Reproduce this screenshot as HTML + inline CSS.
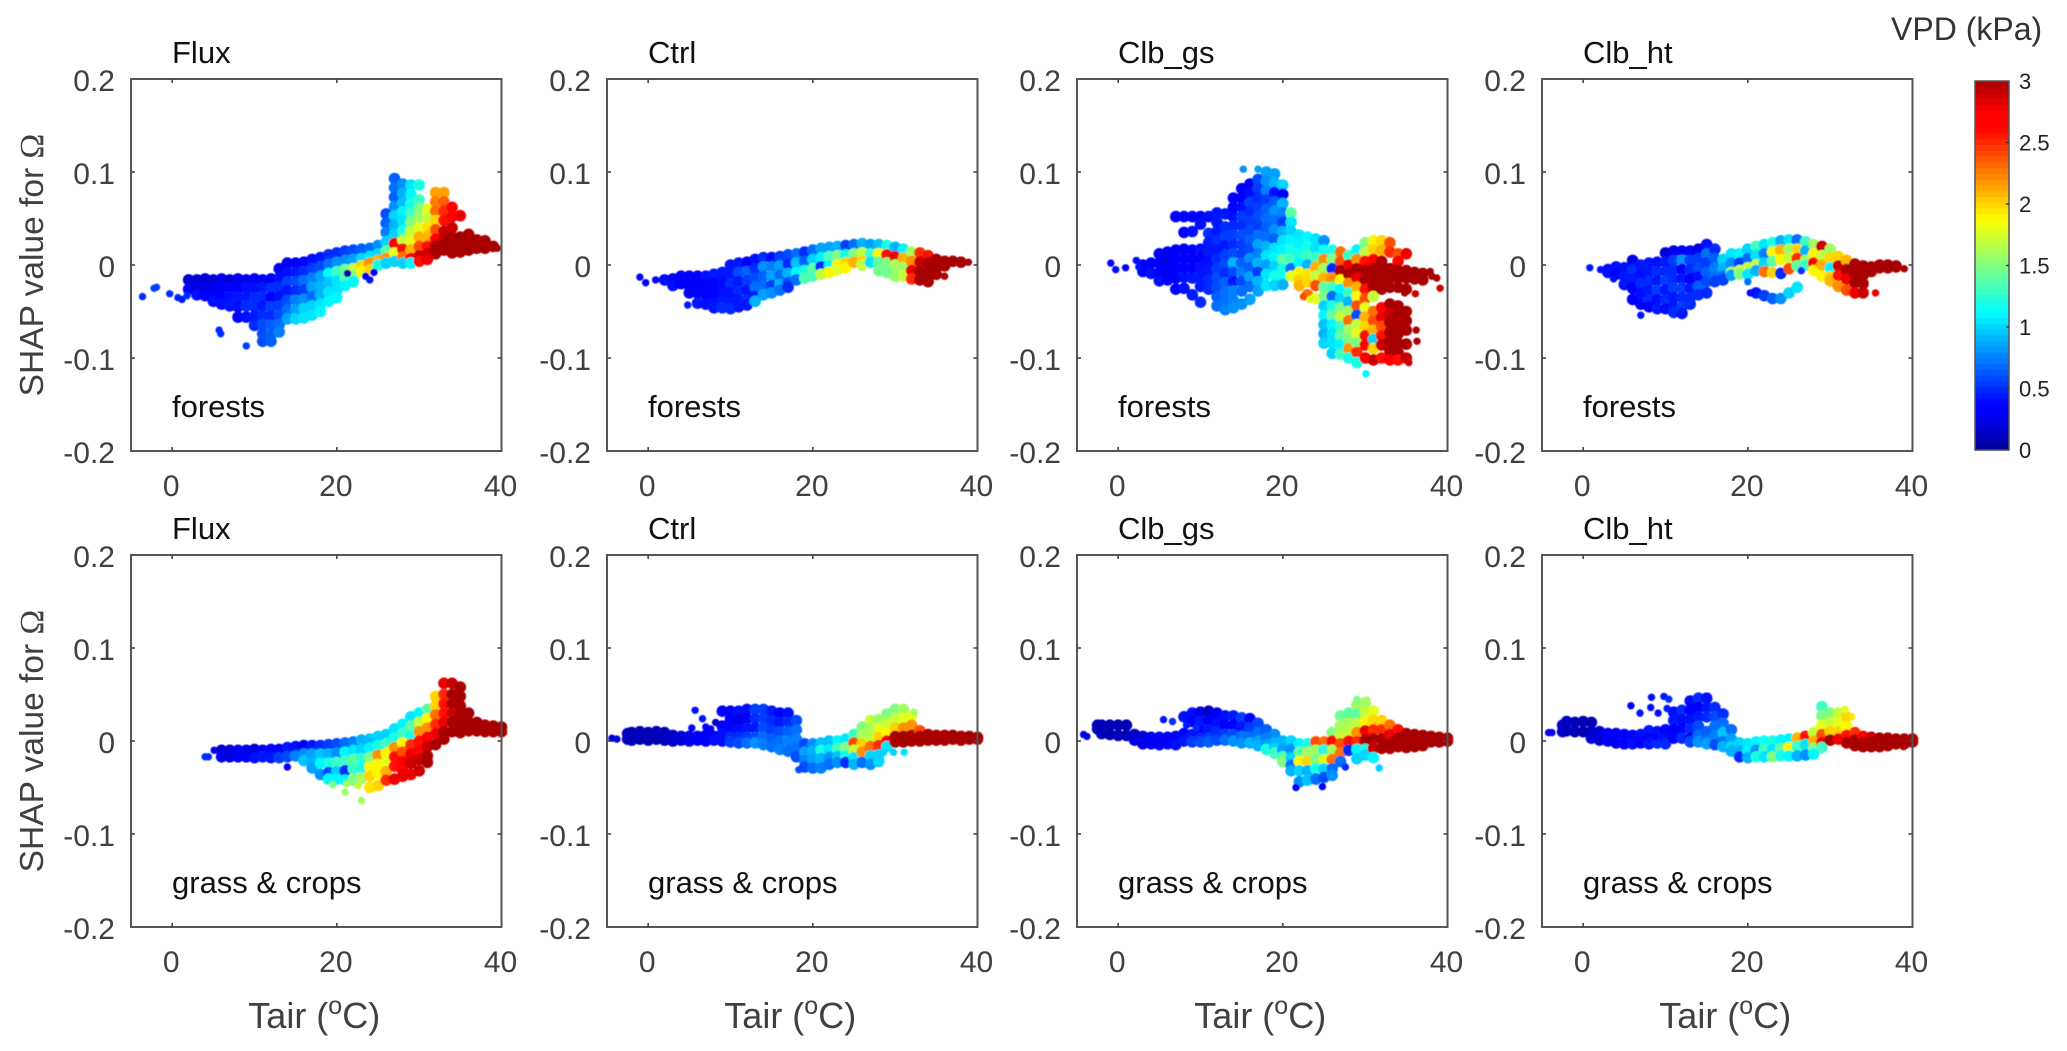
<!DOCTYPE html>
<html>
<head>
<meta charset="utf-8">
<title>SHAP value for Omega vs Tair</title>
<style>
html,body{margin:0;padding:0;background:#fff}
svg{display:block;font-family:"Liberation Sans",sans-serif}
</style>
</head>
<body>
<svg id="chart" xmlns="http://www.w3.org/2000/svg" width="2067" height="1051" viewBox="0 0 2067 1051">
<defs><filter id="soft" x="-5%" y="-5%" width="110%" height="110%"><feGaussianBlur stdDeviation="0.6"/></filter></defs>
<rect width="2067" height="1051" fill="#fff"/>
<text x="1891" y="40" font-size="32" fill="#333">VPD (kPa)</text>
</svg>
<script>
const modelNames=["Flux","Ctrl","Clb_gs","Clb_ht"];
const biomeNames=["forests","grass & crops"];
const tairTicks=[0,20,40];
const shapTicks=[0.2,0.1,0,-0.1,-0.2];
const shapLabels=["0.2","0.1","0","-0.1","-0.2"];
const vpdTicks=[0,0.5,1,1.5,2,2.5,3];
const vpdLabels=["0","0.5","1","1.5","2","2.5","3"];
/* each column: tair, then shap,vpd pairs */
const fluxForests=[
[2,-.016,.2,-.026,.35],
[3,-.016,.2,-.024,.25,-.032,.4],
[4,-.015,.2,-.025,.25,-.033,.35],
[5,-.016,.2,-.024,.25,-.033,.35,-.039,.4],
[6,-.015,.25,-.025,.3,-.035,.35,-.042,.4],
[7,-.016,.2,-.024,.3,-.034,.4,-.044,.45],
[8,-.015,.25,-.025,.3,-.035,.45,-.045,.4,-.056,.35],
[9,-.016,.25,-.024,.4,-.034,.45,-.044,.5,-.056,.4],
[10,-.015,.3,-.025,.4,-.035,.5,-.045,.5,-.055,.45,-.065,.5],
[11,-.016,.25,-.024,.45,-.034,.5,-.044,.45,-.054,.5,-.064,.6,-.074,.6,-.082,.6],
[12,-.015,.3,-.025,.5,-.035,.3,-.045,.55,-.055,.5,-.065,.65,-.075,.65,-.082,.65],
[13,-.004,.3,-.014,.4,-.024,.5,-.034,.4,-.044,.55,-.054,.6,-.064,.7,-.072,.75],
[14,.002,.25,-.008,.4,-.018,.55,-.028,.45,-.038,.6,-.048,.7,-.058,.85],
[15,.002,.3,-.008,.45,-.018,.6,-.028,.5,-.038,.75,-.048,.85,-.058,1],
[16,.003,.35,-.007,.5,-.017,.7,-.027,.55,-.037,.8,-.047,1,-.057,1.05],
[17,.006,.4,-.004,.55,-.014,.75,-.024,.85,-.034,.7,-.044,1,-.054,1.05],
[18,.008,.45,-.002,.6,-.012,.85,-.022,.9,-.032,.9,-.042,1.05,-.05,1.1],
[19,.011,.5,.001,.7,-.009,1.1,-.019,.95,-.029,1.05,-.039,1.1],
[20,.013,.5,.003,.8,-.007,1.3,-.017,1.05,-.027,1.05,-.035,1.1],
[21,.015,.55,.005,.8,-.005,1.45,-.013,1.35,-.022,1.1],
[22,.016,.6,.006,.85,-.004,1.7,-.012,1.5,-.018,1.1],
[23,.017,.65,.007,1,-.001,2,-.007,1.9],
[24,.018,.7,.009,1.05,.002,2.2,-.005,2],
[25,.021,.8,.012,1,.005,2.1,0,1.2],
[26,.055,.6,.045,.65,.035,.75,.025,1,.015,1.4,.007,2.2,.002,1],
[27,.093,.65,.083,.7,.073,.65,.063,.8,.053,1,.043,.9,.033,1,.023,2.7,.013,1.8,.004,1],
[28,.087,.8,.077,.9,.067,.95,.057,1.1,.047,1.05,.037,1.2,.027,1.7,.017,2.6,.008,2.3,.002,1],
[29,.086,1.05,.076,1.1,.066,1.2,.056,1.3,.046,1.5,.036,1.7,.026,1.8,.016,2.1,.007,2.7,.002,1.1],
[30,.086,1.2,.07,1.3,.06,1.5,.05,1.6,.04,1.8,.03,2.1,.02,2.4,.01,2.9,.004,2.6],
[31,.06,1.8,.05,1.7,.04,1.95,.03,2.1,.02,2.6,.012,2.9,.006,2.8],
[32,.078,2.15,.068,2.25,.058,2.3,.048,2,.038,2.4,.028,2.7,.02,3,.012,3],
[33,.078,2.15,.068,2.35,.058,2.5,.048,2.6,.036,2.9,.026,3,.016,3],
[34,.062,2.7,.052,2.7,.04,2.9,.03,3,.02,3,.013,3],
[35,.053,2.8,.03,3,.022,3,.014,3],
[36,.033,3,.025,3,.016,3],
[37,.027,3,.018,3],
[38,.026,3,.018,3],
[39,.02,3]];
const fluxForestsStray=[[-3.6,-.034,.5],[-2.2,-.025,.55],[-1.9,-.024,.55],[-.3,-.031,.5],[.7,-.035,.5],[1.2,-.037,.45],[1.8,-.033,.5],[5.7,-.07,.5],[5.9,-.074,.5],[9,-.087,.55],[23.5,-.012,.3],[24,-.016,.4],[24.5,-.008,.3],[21.3,-.009,.1],[39.5,.018,3]];
const ctrlForests=[
[2,-.016,.4],
[3,-.015,.35,-.022,.4],
[4,-.012,.35,-.02,.3],
[5,-.012,.35,-.022,.3,-.03,.35],
[6,-.012,.35,-.02,.3,-.03,.35,-.041,.45],
[7,-.012,.4,-.022,.3,-.032,.3,-.042,.4],
[8,-.01,.45,-.02,.35,-.03,.35,-.04,.4,-.046,.45],
[9,-.008,.45,-.018,.4,-.028,.4,-.038,.45,-.046,.5],
[10,0,.45,-.01,.45,-.02,.5,-.03,.4,-.04,.45,-.047,.5],
[11,.002,.45,-.008,.6,-.018,.45,-.028,.5,-.038,.45,-.045,.45],
[12,.003,.35,-.007,.65,-.017,.55,-.027,.45,-.037,.5,-.043,.45],
[13,.006,.4,-.004,.5,-.014,.6,-.024,.7,-.034,.45,-.039,.9],
[14,.008,.5,-.002,.8,-.012,.65,-.022,.7,-.032,.85],
[15,.008,.4,-.002,.75,-.012,.85,-.022,.55,-.03,.8],
[16,.009,.55,-.001,.85,-.011,.7,-.021,.9,-.027,.7],
[17,.011,.6,.001,.5,-.009,.9,-.019,.6,-.024,.5],
[18,.012,.7,.002,.95,-.008,1.1,-.016,.7],
[19,.014,.5,.004,.65,-.006,1.2,-.014,1.35],
[20,.016,.7,.006,1,-.004,1.4,-.012,1.35],
[21,.018,.85,.008,1.1,-.002,.5,-.01,1.7],
[22,.019,.85,.009,1.35,-.001,1.1,-.008,1.9],
[23,.02,.9,.01,1.5,0,1.9,-.005,1.8],
[24,.021,.55,.011,1.2,.002,2,-.003,1.9],
[25,.022,.7,.012,1.5,.003,2.1],
[26,.023,.9,.013,1.7,.004,2,0,1.7],
[27,.022,.85,.012,1.3,.003,1.05],
[28,.022,.95,.012,1.9,.003,1.4,-.006,1.45],
[29,.021,1.2,.011,2.6,.002,1.5,-.008,1.45],
[30,.019,.9,.009,2.8,0,1.6,-.012,1.55],
[31,.017,1.1,.007,2.1,-.003,1.6,-.012,1.7],
[32,.014,1.6,.004,2.2,-.006,2.8,-.015,2.5],
[33,.013,2.5,.003,2.9,-.007,3,-.016,3],
[34,.01,2.6,.002,3,-.008,3,-.018,3],
[35,.006,3,-.003,3,-.01,3],
[36,.004,3,-.001,3],
[37,.004,3],
[38,.003,3]];
const ctrlForestsStray=[[-1,-.013,.35],[-.3,-.019,.35],[.9,-.016,.35],[38.9,.003,3],[4.8,-.043,.45],[36,-.012,3.0]];
const clbGsForests=[
[3,0,.35,-.007,.35],
[4,.002,.35,-.009,.4],
[5,.012,.3,.002,.3,-.008,.35,-.017,.4],
[6,.014,.3,.004,.25,-.006,.3,-.016,.35],
[7,.052,.35,.016,.3,.006,.3,-.004,.35,-.014,.35,-.026,.35],
[8,.052,.35,.035,.35,.017,.3,.007,.35,-.003,.35,-.013,.4,-.025,.4],
[9,.052,.35,.036,.4,.016,.35,.006,.3,-.004,.35,-.014,.45,-.032,.45],
[10,.052,.3,.044,.4,.017,.4,.007,.35,-.003,.4,-.013,.45,-.023,.45,-.04,.5],
[11,.052,.4,.034,.5,.024,.45,.014,.45,.004,.4,-.006,.45,-.016,.5,-.026,.5],
[12,.056,.45,.046,.45,.036,.45,.026,.5,.016,.45,.006,.5,-.004,.55,-.014,.6,-.024,.6,-.034,.65,-.044,.7],
[13,.055,.45,.041,.5,.031,.55,.021,.45,.011,.55,.001,.6,-.009,.5,-.019,.65,-.029,.7,-.039,.7,-.048,.75],
[14,.072,.35,.062,.35,.052,.4,.042,.5,.032,.55,.022,.5,.012,.6,.002,.9,-.008,.6,-.018,.45,-.028,.75,-.038,.75,-.046,.8],
[15,.082,.3,.072,.3,.062,.4,.052,.55,.042,.5,.032,.6,.022,.55,.012,.55,.002,.65,-.008,.75,-.018,.6,-.028,.7,-.042,.8],
[16,.087,.3,.077,.4,.067,.55,.057,.5,.047,.55,.037,.6,.027,.65,.017,.6,.007,.8,-.003,.65,-.013,.85,-.023,.7,-.037,.85],
[17,.092,.6,.082,.55,.072,.5,.062,.55,.052,.6,.042,.55,.032,.7,.022,.85,.012,.75,.002,.9,-.008,.55,-.018,.9,-.028,.85],
[18,.1,.85,.09,.8,.08,.75,.07,.55,.06,.65,.05,.7,.04,.65,.03,.7,.02,.9,.01,1.05,0,.85,-.01,1.05,-.022,1.05],
[19,.098,.85,.088,.9,.078,.4,.068,.65,.058,.8,.048,.7,.038,.8,.028,.65,.018,1.05,.008,1.1,-.002,1,-.012,1.2,-.022,1],
[20,.086,1,.076,.3,.066,.9,.056,.75,.046,.55,.036,.9,.026,1.05,.016,1.1,.006,1.4,-.004,1.2,-.014,1.15,-.021,.9],
[21,.056,1.4,.046,1.05,.036,1,.026,1.1,.016,1.2,.006,1.3,-.004,.7,-.012,1.8],
[22,.032,1.05,.022,1.1,.012,1.2,.002,1.1,-.008,1.9,-.016,2,-.022,2.1],
[23,.03,1.1,.02,1.2,.01,1.3,0,.9,-.01,1.95,-.018,2,-.032,2.3],
[24,.028,1.05,.018,1.05,.008,1.3,-.002,2.1,-.012,1.7,-.022,2.4,-.036,1.8],
[25,.026,.8,.016,1.15,.006,2.2,-.004,1.6,-.014,2.1,-.024,1.4,-.034,1.5,-.044,1,-.054,1.1,-.064,.95,-.074,.9,-.084,1],
[26,.016,1.2,.006,1.5,-.004,.5,-.014,2.2,-.024,1.3,-.034,.7,-.044,1.2,-.054,1.4,-.064,1.1,-.074,1.05,-.084,1.05,-.095,1],
[27,.014,2.3,.004,2.4,-.006,3,-.016,1.9,-.026,1.1,-.036,1,-.046,1.5,-.056,1.7,-.066,1.3,-.076,1.4,-.086,1.1,-.096,1.3],
[28,.01,1.3,0,2.8,-.01,3,-.02,2.2,-.03,1.3,-.04,.9,-.05,1.6,-.06,2.3,-.07,1.6,-.08,1.5,-.09,2.2,-.1,1.2],
[29,.016,1.1,.006,2.2,-.004,3,-.014,2.8,-.024,2.1,-.034,1.9,-.044,2.4,-.054,.6,-.064,1.7,-.074,1.8,-.084,1.5,-.094,2.5,-.105,1.2],
[30,.024,1.5,.014,1.7,.004,2.6,-.006,3,-.016,3,-.026,2.6,-.036,2.4,-.046,1.8,-.056,2.1,-.066,2,-.076,2.6,-.086,2.7,-.1,2.7],
[31,.026,1.9,.016,2,.006,2.7,-.004,3,-.014,3,-.024,3,-.034,1.7,-.05,2.3,-.06,2.4,-.07,2.1,-.08,1.0,-.09,2,-.102,2.9],
[32,.026,2,.016,2.1,.004,3,-.006,3,-.016,3,-.026,3,-.046,2.7,-.056,2.8,-.066,2.4,-.076,2.6,-.086,2.9,-.1,2.6],
[33,.024,2.4,.014,2.5,-.004,3,-.014,3,-.024,3,-.042,3,-.052,2.9,-.062,3,-.072,3,-.082,3,-.092,3,-.102,2.7],
[34,.012,2.4,.004,2.7,-.006,3,-.014,3,-.024,3,-.044,3,-.054,3,-.064,3,-.074,3,-.084,3,-.094,3,-.102,2.6],
[35,.012,2.8,-.006,3,-.014,3,-.026,3,-.05,3,-.06,3,-.07,3,-.085,3,-.1,2.9],
[36,-.008,3,-.015,3],
[37,-.009,3,-.016,3]];
const clbGsForestsStray=[[-.9,.002,.3],[-.3,-.005,.4],[.9,-.003,.35],[2.2,.005,.4],[2.5,-.002,.4],[15.2,.103,.8],[17,.103,.85],[37.9,-.007,3],[38.1,-.012,3],[38.7,-.014,3],[39.1,-.025,2.9],[30.1,-.117,1.1],[35.3,-.105,2.9],[22.5,-.034,2.4],[23.3,-.037,1.8],[34.8,-.03,3],[36.1,-.031,2.9],[36.3,-.082,3],[36.2,-.07,3]];
const clbHtForests=[
[3,-.005,.35,-.008,.4],
[4,-.002,.4,-.01,.35],
[5,-.003,.4,-.012,.45,-.021,.4],
[6,.005,.25,-.005,.5,-.015,.45,-.025,.3,-.037,.3],
[7,0,.45,-.01,.4,-.02,.5,-.03,.4,-.042,.35],
[8,.002,.45,-.008,.45,-.018,.5,-.028,.45,-.038,.5,-.045,.35],
[9,.003,.4,-.007,.5,-.017,.45,-.027,.55,-.037,.4,-.047,.45],
[10,.013,.2,.003,.45,-.007,.5,-.017,.55,-.027,.45,-.037,.5,-.047,.4],
[11,.015,.25,.005,.55,-.005,.5,-.015,.5,-.025,.55,-.035,.45,-.045,.45,-.051,.5],
[12,.015,.3,.005,.8,-.005,.3,-.015,.45,-.025,.55,-.035,.5,-.045,.55,-.052,.45],
[13,.015,.35,.005,.55,-.005,.5,-.015,.3,-.025,.45,-.035,.5,-.042,.5],
[14,.017,.25,.007,.55,-.003,.6,-.013,.4,-.023,.65,-.032,.5],
[15,.022,.4,.012,.7,.002,.55,-.008,.65,-.018,.6,-.03,.5],
[16,.017,.5,.007,.65,-.003,.75,-.013,.7,-.018,.55],
[17,.006,1,-.004,.9,-.012,.7,-.016,.55],
[18,.012,1.05,.002,.8,-.008,1.6,-.011,.85],
[19,.012,1.1,.002,.55,-.006,1.7,-.01,1.5],
[20,.017,1,.007,.7,-.003,1.7,-.01,1.05],
[21,.02,1.3,.01,1.05,0,1.75,-.006,.9,-.03,.45],
[22,.022,1.05,.012,.75,.002,1,-.007,2.3,-.033,.55],
[23,.024,1.2,.014,1.9,.004,1.4,-.008,2,-.036,.65],
[24,.026,.9,.016,2.1,.006,1.9,-.009,.5,-.036,.8],
[25,.027,1.05,.017,1.6,.007,1.7,-.004,2.4,-.03,1],
[26,.027,.7,.017,2,.007,2.5,-.001,1.4,-.024,1.05],
[27,.025,1.3,.015,.9,.005,1.6,0,1.3],
[28,.022,1.6,.012,1.9,.002,2.7,-.006,1.9],
[29,.02,2.9,.01,1.7,0,2.1,-.012,1.9],
[30,.017,1.6,.007,2,-.003,1.1,-.013,2,-.017,2.1],
[31,.009,2,-.001,2.9,-.011,2.6,-.023,2.2],
[32,.005,2.1,-.005,3,-.015,2.8,-.027,2.4],
[33,.001,3,-.009,3,-.019,3,-.03,2.8],
[34,-.001,3,-.011,3,-.02,3,-.03,2.9],
[35,-.002,3,-.007,3],
[36,0,3,-.003,3],
[37,0,3,-.003,3],
[38,-.001,3,-.002,3]];
const clbHtForestsStray=[[.8,-.003,.45],[2.1,-.005,.4],[3.7,-.015,.4],[4.9,-.021,.45],[7,-.054,.45],[20.3,-.03,.4],[20,-.018,.7],[26.5,-.006,.5],[35.5,-.03,2.8],[39,-.004,3]];
const fluxGrass=[
[6,-.01,.2,-.017,.25],
[7,-.01,.2,-.017,.2],
[8,-.01,.25,-.017,.3],
[9,-.01,.25,-.017,.3],
[10,-.009,.2,-.018,.4],
[11,-.01,.3,-.017,.45],
[12,-.009,.35,-.018,.45],
[13,-.009,.3,-.018,.55],
[14,-.007,.45,-.017,.6],
[15,-.006,.4,-.016,.75],
[16,-.005,.35,-.014,.8,-.021,.95],
[17,-.005,.45,-.014,.85,-.023,.9,-.029,.85],
[18,-.005,.5,-.014,.95,-.024,1.1,-.036,.8],
[19,-.004,.55,-.014,.9,-.024,1.2,-.034,.6,-.041,1.1],
[20,-.003,.6,-.013,.8,-.023,1.3,-.033,1,-.041,1.1],
[21,-.002,.7,-.012,1.1,-.022,1.3,-.032,.5,-.042,1.1],
[22,-.001,.75,-.01,1.05,-.02,1.4,-.03,1.3,-.042,1.5],
[23,.001,.9,-.009,1,-.019,1.25,-.029,1.2,-.04,1.6],
[24,.002,.95,-.008,1.1,-.018,1.5,-.028,1.9,-.038,2,-.05,1.95],
[25,.005,1,-.005,1.2,-.015,2.2,-.025,1.9,-.035,1.9,-.048,2],
[26,.007,1,-.003,1.3,-.013,1.9,-.023,1.8,-.033,2.1,-.042,2.5],
[27,.013,1.05,.003,1.2,-.007,2.2,-.017,2.6,-.027,2.6,-.041,2.8],
[28,.018,1.1,.008,1.3,-.002,1.9,-.012,2.4,-.022,2.7,-.032,2.7,-.038,2.8],
[29,.026,1.05,.016,1.4,.006,1.2,-.004,2.5,-.014,2.8,-.024,2.9,-.036,2.8],
[30,.03,1.1,.02,1.7,.01,2.2,0,2.6,-.01,2.7,-.02,2.9,-.032,2.9],
[31,.034,1.4,.024,1.9,.014,2.2,.004,2.7,-.006,2.9,-.016,3,-.023,3],
[32,.048,2,.038,2,.028,2.3,.018,2.5,.008,2.8,-.004,3],
[33,.062,2.8,.05,2.5,.04,2.6,.03,2.6,.02,2.8,.01,3,.002,3],
[34,.062,2.9,.05,3,.04,3,.03,2.9,.02,3,.01,3],
[35,.058,3,.048,3,.038,3,.028,3,.018,3,.009,3],
[36,.03,3,.02,3,.011,3],
[37,.02,3,.011,3],
[38,.017,3,.01,3],
[39,.016,3,.01,3],
[40,.015,3,.01,3]];
const fluxGrassStray=[[4,-.017,.5],[4.4,-.017,.5],[5.1,-.01,.2],[14,-.028,.25],[19.5,-.047,1.5],[21,-.055,1.6],[21.2,-.046,1.6],[22.6,-.048,1.7],[23,-.064,1.6]];
const ctrlGrass=[
[-2.5,.008,.15,.002,.15],
[-2,.009,.1,.001,.1],
[-1,.01,.1,.002,.1],
[0,.009,.1,.001,.1],
[1,.01,.12,.002,.12],
[2,.009,.12,.001,.12],
[3,.006,.15,0,.15],
[4,.005,.2,.001,.2],
[5,.005,.25,0,.25],
[6,.005,.25,.001,.3],
[7,.006,.3,0,.35],
[8,.005,.35,.001,.4],
[9,.032,.35,.016,.35,.008,.4,0,.4],
[10,.032,.3,.024,.35,.014,.35,.004,.5,-.001,.55],
[11,.032,.4,.022,.25,.012,.4,.004,.5,-.002,.6],
[12,.034,.4,.024,.35,.014,.45,.004,.55,-.002,.7],
[13,.034,.55,.024,.5,.014,.45,.004,.6,-.002,.8],
[14,.034,.55,.024,.55,.014,.6,.004,.7,-.004,.75],
[15,.032,.45,.022,.5,.012,.55,.002,.65,-.006,.7],
[16,.03,.35,.02,.45,.01,.6,0,.7,-.009,.75],
[17,.03,.4,.02,.5,.01,.65,0,.75,-.011,.7],
[18,.022,.6,.012,.7,.002,.75,-.008,.7,-.017,.6],
[19,-.003,.6,-.012,.85,-.021,.75,-.028,.6],
[20,-.003,.8,-.011,.9,-.02,.85,-.029,.7],
[21,-.002,.95,-.01,1.2,-.019,.9,-.029,.75],
[22,0,.95,-.009,1.05,-.018,.8,-.025,.7],
[23,0,1.1,-.008,1.3,-.017,.95,-.023,.8],
[24,.002,1.05,-.007,1.5,-.016,1.2,-.023,.5],
[25,.007,1.3,-.002,2.4,-.01,1.7,-.018,1.05,-.025,.9],
[26,.015,1.5,.006,1.6,-.003,2,-.012,2.2,-.023,.7],
[27,.022,1.7,.012,1.6,.003,1.7,-.006,2.3,-.016,1,-.025,.8],
[28,.023,1.6,.013,1.8,.004,2,-.005,2.5,-.015,1,-.022,1],
[29,.029,1.5,.019,1.7,.009,1.9,0,2.7,-.006,1.05],
[30,.034,1.5,.024,1.7,.014,2,.005,3,-.001,3],
[31,.034,1.6,.024,1.8,.014,2.2,.005,3,-.001,3],
[32,.027,1.8,.017,2.2,.006,3,0,3],
[33,.011,2.4,.005,3,0,3],
[34,.007,3,.001,3],
[35,.006,3,.001,3],
[36,.006,3,.001,3],
[37,.006,3,.002,3],
[38,.005,3,.001,3],
[39,.005,3,.002,3],
[40,.004,3,.002,3]];
const ctrlGrassStray=[[-4.4,.003,.2],[-3.8,.002,.2],[5.3,.014,.35],[5.7,.033,.4],[6.6,.024,.45],[7,.015,.35],[7.6,.013,.3],[8.2,.02,.15],[28.6,-.012,1],[29.8,-.012,1],[31.1,-.012,1.05],[32.3,.031,1.6],[18.3,-.031,.6]];
const clbGsGrass=[
[-2.5,.017,.12,.013,.12],
[-2,.017,.1,.008,.1],
[-1,.017,.1,.007,.1],
[0,.017,.1,.006,.1],
[1,.017,.1,.006,.12],
[2,.007,.15,.001,.2],
[3,.005,.2,-.003,.25],
[4,.004,.25,-.003,.3],
[5,.004,.3,-.004,.3],
[6,.004,.3,-.003,.35],
[7,.005,.35,-.004,.4],
[8,.026,.4,.008,.35,0,.45],
[9,.03,.4,.021,.35,.007,.45,-.001,.55],
[10,.031,.25,.021,.45,.011,.35,.003,.5,-.001,.6],
[11,.032,.15,.022,.3,.012,.45,.003,.55,-.001,.65],
[12,.03,.3,.02,.4,.01,.5,.001,.6],
[13,.027,.4,.017,.3,.007,.55,.001,.7],
[14,.027,.45,.017,.35,.007,.6,0,.8],
[15,.025,.55,.015,.45,.005,.7,-.002,.8],
[16,.024,.3,.014,.55,.004,.7,-.002,.9],
[17,.019,.6,.009,.7,0,.85,-.005,.9],
[18,.012,.65,.003,.75,-.004,.85,-.009,1.2],
[19,.007,.8,-.002,.9,-.008,1,-.013,1.3],
[20,0,.9,-.01,.85,-.017,1.35,-.022,1.5],
[21,0,1,-.009,.8,-.018,1,-.026,.7,-.032,.9],
[22,-.003,1.1,-.012,1.4,-.022,1.9,-.032,1,-.044,.8],
[23,-.003,1.2,-.012,1.6,-.022,2,-.032,.9,-.042,.95],
[24,-.001,2.4,-.01,1.6,-.02,1.5,-.03,1.2,-.041,.7],
[25,-.001,2.3,-.01,1.2,-.02,1.8,-.03,1,-.039,.6],
[26,.009,1.5,0,2.6,-.01,1.6,-.02,2.3,-.03,.7,-.037,.8],
[27,.027,1.45,.017,1.6,.007,1.7,-.003,2.4,-.013,2.3,-.022,.7],
[28,.03,1.4,.02,1.6,.01,1.7,0,2.6,-.01,.5],
[29,.039,1.6,.029,1.4,.019,1.7,.009,2.2,-.001,2.5,-.009,1.1,-.019,1],
[30,.041,1.6,.031,1.7,.021,1.9,.011,2.8,.001,3,-.009,1.2,-.015,1],
[31,.032,1.8,.022,2,.012,2.5,.002,3,-.008,2.9,-.018,1.1],
[32,.022,2,.012,2.5,.002,3,-.008,3],
[33,.017,2.3,.007,2.8,-.003,3,-.008,3],
[34,.012,2.6,.003,3,-.006,3],
[35,.008,3,0,3,-.007,3],
[36,.007,3,-.001,3,-.006,3],
[37,.006,3,-.001,3,-.005,3],
[38,.005,3,-.001,3],
[39,.004,3,-.001,3],
[40,.003,3,0,3]];
const clbGsGrassStray=[[-4.2,.007,.2],[-3.8,.005,.2],[5.5,.023,.45],[6.6,.021,.5],[8.3,.017,.45],[9.5,.014,.5],[27.6,-.028,.5],[31.7,-.029,1],[21.6,-.05,.3],[24.8,-.049,.3],[29,.045,1.5],[30.2,.044,1.6]];
const clbHtGrass=[
[-2.5,.017,.15,.01,.15],
[-2,.021,.12,.011,.12],
[-1,.02,.12,.01,.12],
[0,.021,.1,.01,.1],
[1,.02,.12,.01,.12,.003,.2],
[2,.01,.2,.001,.2],
[3,.008,.3,0,.3],
[4,.008,.3,-.002,.3],
[5,.007,.35,-.003,.35],
[6,.006,.35,-.003,.4],
[7,.007,.4,-.002,.35],
[8,.011,.45,.003,.35,-.003,.45],
[9,.01,.4,.002,.45,-.002,.5],
[10,.012,.35,.003,.4,-.003,.5],
[11,.031,.4,.022,.45,.012,.3,.003,.35],
[12,.033,.5,.023,.4,.013,.35,.003,.5],
[13,.043,.4,.033,.35,.023,.4,.013,.5,.003,.3,-.001,.6],
[14,.046,.5,.036,.3,.026,.45,.016,.6,.006,.7,-.001,.8],
[15,.046,.4,.036,.45,.026,.5,.01,.65,.001,.7,-.003,.85],
[16,.036,.5,.026,.6,.016,.7,.006,.75,-.004,.6],
[17,.029,.5,.019,.7,.009,.95,-.001,.7,-.006,.9],
[18,.012,.7,.002,.85,-.006,1,-.011,.9],
[19,-.002,1,-.011,.9,-.017,.5],
[20,-.003,1.05,-.011,1.1,-.018,.9],
[21,-.001,1.1,-.01,.8,-.017,1.2],
[22,0,1.15,-.009,1.3,-.017,1.05],
[23,0,1.2,-.009,1.05,-.017,1.5],
[24,.001,1.1,-.008,1.4,-.016,1.2],
[25,.002,1.1,-.007,1.9,-.016,1.1],
[26,.003,2.1,-.006,1.3,-.016,.9],
[27,.005,2.6,-.004,1.05,-.015,.8],
[28,.009,1.7,0,2.1,-.008,1.5,-.014,1.1],
[29,.037,1.3,.027,1.5,.017,1.8,.007,2.4,-.002,2.8,-.007,1.3],
[30,.03,1.5,.02,1.7,.01,2,.001,3],
[31,.03,1.7,.02,1.8,.01,2,.002,2.8],
[32,.026,2,.016,1.9,.006,2.6,-.002,3],
[33,.009,2.5,.001,3,-.005,3],
[34,.005,2.7,-.002,3,-.006,3],
[35,.004,2.9,-.002,3,-.006,3],
[36,.003,3,-.002,3,-.006,3],
[37,.003,3,-.002,3,-.005,3],
[38,.002,3,-.003,3],
[39,.002,3,-.003,3],
[40,.002,3,-.001,3]];
const clbHtGrassStray=[[-4.2,.009,.3],[-3.8,.009,.3],[5.8,.038,.35],[6.9,.03,.4],[8.3,.047,.4],[8.2,.036,.4],[9.1,.03,.4],[9.8,.048,.45],[10.4,.045,.5],[10.2,.035,.45],[8.8,.005,.35],[31.8,.034,1.8],[32.6,.026,1.95],[38.9,-.006,3]];

const seriesGrid=[[fluxForests,ctrlForests,clbGsForests,clbHtForests],[fluxGrass,ctrlGrass,clbGsGrass,clbHtGrass]];
const strayGrid=[[fluxForestsStray,ctrlForestsStray,clbGsForestsStray,clbHtForestsStray],[fluxGrassStray,ctrlGrassStray,clbGsGrassStray,clbHtGrassStray]];

/* layout */
const panelLefts=[131,607,1077,1542], rowTops=[79,555];
const PW=370.5, PH=372, TAIR_MIN=-5, TAIR_MAX=40, SHAP_MIN=-.2, SHAP_MAX=.2;
const svg=document.getElementById('chart');
const NS='http://www.w3.org/2000/svg';
function xPos(left,t){return left+(t-TAIR_MIN)/(TAIR_MAX-TAIR_MIN)*PW;}
function yPos(top,s){return top+(SHAP_MAX-s)/(SHAP_MAX-SHAP_MIN)*PH;}
function cl(a){return Math.round(255*Math.max(0,Math.min(1,a)));}
function jet(v){
  const q=Math.max(0,Math.min(1,v/3));
  const r=Math.min(4*q-1.5,-4*q+4.66), g=Math.min(4*q-.5,-4*q+3.5), b=Math.min(4*q+.58,-4*q+2.5);
  return 'rgb('+cl(r)+','+cl(g)+','+cl(b)+')';
}
function mk(tag,attrs,parent,txt){
  const e=document.createElementNS(NS,tag);
  for(const k in attrs)e.setAttribute(k,attrs[k]);
  if(txt!==undefined)e.textContent=txt;
  parent.appendChild(e);
  return e;
}
function slug(s){return s.toLowerCase().replace(/[^a-z0-9]+/g,'-');}

rowTops.forEach(function(top,r){
  panelLefts.forEach(function(left,c){
    const name=slug(modelNames[c])+'-'+slug(biomeNames[r]);
    const g=mk('g',{},svg);
    
    
    const marks=mk('g',{filter:'url(#soft)'},g);
    
    
    seriesGrid[r][c].forEach(function(col){
      const t=col[0];
      for(let i=1;i<col.length;i+=2){
        const dot=mk('circle',{cx:xPos(left,t).toFixed(1),cy:yPos(top,col[i]).toFixed(1),r:5.8,fill:jet(col[i+1])},marks);
        
        
      }
    });
    strayGrid[r][c].forEach(function(p){
      const dot=mk('circle',{cx:xPos(left,p[0]).toFixed(1),cy:yPos(top,p[1]).toFixed(1),r:3.7,fill:jet(p[2])},marks);
      
      
    });
    const frame=mk('rect',{x:left,y:top,width:PW,height:PH,fill:'none',stroke:'#555',"stroke-width":2},g);
    
    
    tairTicks.forEach(function(t){
      const x=xPos(left,t);
      if(t<TAIR_MAX){
        const a=mk('line',{x1:x,x2:x,y1:top+PH,y2:top+PH-4,stroke:'#444',"stroke-width":1.6},g);
        
        
        const b=mk('line',{x1:x,x2:x,y1:top,y2:top+4,stroke:'#444',"stroke-width":1.6},g);
        
        
      }
      const lab=mk('text',{x:x-1,y:top+PH+45,"font-size":30,fill:'#404040',"text-anchor":'middle'},g,String(t));
      
      
    });
    shapTicks.forEach(function(s,i){
      const y=yPos(top,s);
      if(i>0&&i<shapTicks.length-1){
        const a=mk('line',{x1:left,x2:left+4,y1:y,y2:y,stroke:'#444',"stroke-width":1.6},g);
        
        
        const b=mk('line',{x1:left+PW,x2:left+PW-4,y1:y,y2:y,stroke:'#444',"stroke-width":1.6},g);
        
        
      }
      const lab=mk('text',{x:left-16,y:y+12,"font-size":30,fill:'#404040',"text-anchor":'end'},g,shapLabels[i]);
      
      
    });
    const title=mk('text',{x:left+41,y:top-16,"font-size":31,fill:'#111'},g,modelNames[c]);
    
    
    const biome=mk('text',{x:left+41,y:top+338,"font-size":31,fill:'#111'},g,biomeNames[r]);
    
    
    if(r===1){
      const xl=mk('text',{x:left+PW/2-2,y:top+PH+101,"font-size":36,fill:'#404040',"text-anchor":'middle'},g,'Tair (');
      
      
      const sup=mk('tspan',{dy:-14,"font-size":25},xl,'o');
      
      
      const rest=mk('tspan',{dy:14},xl,'C)');
      
      
    }
    if(c===0){
      const cy=top+PH/2;
      const yl=mk('text',{transform:'translate(43,'+cy+') rotate(-90)',"font-size":33.5,fill:'#404040',"text-anchor":'middle'},g,'SHAP value for ');
      
      
      const om=mk('tspan',{"font-family":'"Liberation Serif",serif'},yl,'Ω');
      
      
    }
  });
});

/* colorbar */
const CB={x:1975,y:81,w:34,h:369,levels:64,vmax:3};
const cbar=mk('g',{},svg);


for(let i=0;i<CB.levels;i++){
  const seg=mk('rect',{x:CB.x,y:(CB.y+CB.h*(1-(i+1)/CB.levels)).toFixed(2),width:CB.w,height:(CB.h/CB.levels+.6).toFixed(2),fill:jet((i+.5)/CB.levels*CB.vmax)},cbar);
  
  
}
const cbFrame=mk('rect',{x:CB.x,y:CB.y,width:CB.w,height:CB.h,fill:'none',stroke:'#555',"stroke-width":1.5},cbar);


vpdTicks.forEach(function(v,i){
  const y=CB.y+CB.h*(1-v/CB.vmax);
  if(i>0&&i<vpdTicks.length-1){
    const t=mk('line',{x1:CB.x+CB.w,x2:CB.x+CB.w-3,y1:y,y2:y,stroke:'#333',"stroke-width":1.4},cbar);
    
    
  }
  const lab=mk('text',{x:2019,y:y+8,"font-size":22,fill:'#222'},cbar,vpdLabels[i]);
  
  
});
</script>
</body>
</html>
